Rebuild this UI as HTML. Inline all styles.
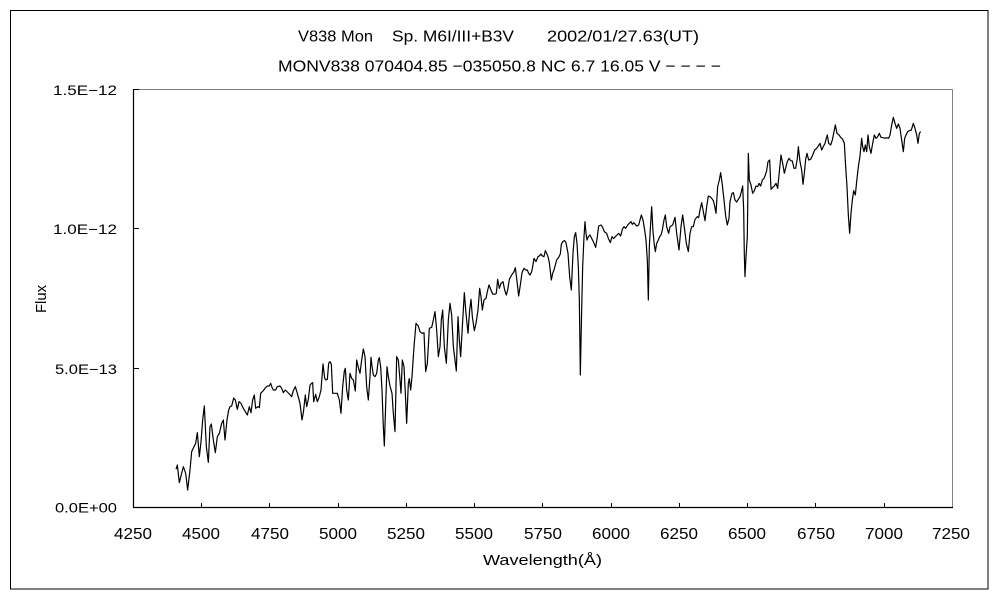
<!DOCTYPE html>
<html><head><meta charset="utf-8"><style>
html,body{margin:0;padding:0;background:#fff;}
svg{display:block;}
text{font-family:"Liberation Sans","Noto Sans CJK JP",sans-serif;fill:#000;}
</style></head><body>
<svg width="1000" height="600" viewBox="0 0 1000 600" xmlns="http://www.w3.org/2000/svg">
<rect x="0" y="0" width="1000" height="600" fill="#fff"/>
<rect x="10.5" y="10.5" width="977.5" height="578.5" fill="none" stroke="#000" stroke-width="1"/>
<!-- plot frame -->
<line x1="133" y1="89.5" x2="952.5" y2="89.5" stroke="#808080" stroke-width="1"/>
<line x1="952.5" y1="89.5" x2="952.5" y2="507.5" stroke="#808080" stroke-width="1"/>
<line x1="133.5" y1="89" x2="133.5" y2="508" stroke="#000" stroke-width="1.2"/>
<line x1="133" y1="507.5" x2="953" y2="507.5" stroke="#000" stroke-width="1.2"/>
<!-- y ticks -->
<g stroke="#000" stroke-width="1">
<line x1="133" y1="368.5" x2="139" y2="368.5"/>
<line x1="133" y1="228.5" x2="139" y2="228.5"/>
<line x1="133" y1="89.5" x2="139" y2="89.5"/>
</g>
<!-- x ticks -->
<g stroke="#000" stroke-width="1">
<line x1="201.5" y1="503" x2="201.5" y2="507"/>
<line x1="269.5" y1="503" x2="269.5" y2="507"/>
<line x1="338.5" y1="503" x2="338.5" y2="507"/>
<line x1="406.5" y1="503" x2="406.5" y2="507"/>
<line x1="474.5" y1="503" x2="474.5" y2="507"/>
<line x1="542.5" y1="503" x2="542.5" y2="507"/>
<line x1="611.5" y1="503" x2="611.5" y2="507"/>
<line x1="679.5" y1="503" x2="679.5" y2="507"/>
<line x1="747.5" y1="503" x2="747.5" y2="507"/>
<line x1="815.5" y1="503" x2="815.5" y2="507"/>
<line x1="884.5" y1="503" x2="884.5" y2="507"/>
</g>
<!-- titles -->
<text x="298" y="41.5" font-size="16" textLength="75" lengthAdjust="spacingAndGlyphs">V838 Mon</text>
<text x="392" y="41.5" font-size="16" textLength="122" lengthAdjust="spacingAndGlyphs">Sp. M6I/III+B3V</text>
<text x="547" y="41.5" font-size="16" textLength="152" lengthAdjust="spacingAndGlyphs">2002/01/27.63(UT)</text>
<text x="278" y="71.5" font-size="16" textLength="443" lengthAdjust="spacingAndGlyphs">MONV838 070404.85 −035050.8 NC 6.7 16.05 V − − − −</text>
<!-- y labels -->
<text x="117" y="95" font-size="14" text-anchor="end" textLength="64" lengthAdjust="spacingAndGlyphs">1.5E−12</text>
<text x="117" y="234" font-size="14" text-anchor="end" textLength="64" lengthAdjust="spacingAndGlyphs">1.0E−12</text>
<text x="117" y="374" font-size="14" text-anchor="end" textLength="62" lengthAdjust="spacingAndGlyphs">5.0E−13</text>
<text x="117" y="512.5" font-size="14" text-anchor="end" textLength="62" lengthAdjust="spacingAndGlyphs">0.0E+00</text>
<!-- x labels -->
<g font-size="16" text-anchor="middle">
<text x="133" y="539" textLength="38" lengthAdjust="spacingAndGlyphs">4250</text>
<text x="201" y="539" textLength="38" lengthAdjust="spacingAndGlyphs">4500</text>
<text x="270" y="539" textLength="38" lengthAdjust="spacingAndGlyphs">4750</text>
<text x="338" y="539" textLength="38" lengthAdjust="spacingAndGlyphs">5000</text>
<text x="406" y="539" textLength="38" lengthAdjust="spacingAndGlyphs">5250</text>
<text x="474" y="539" textLength="38" lengthAdjust="spacingAndGlyphs">5500</text>
<text x="543" y="539" textLength="38" lengthAdjust="spacingAndGlyphs">5750</text>
<text x="611" y="539" textLength="38" lengthAdjust="spacingAndGlyphs">6000</text>
<text x="679" y="539" textLength="38" lengthAdjust="spacingAndGlyphs">6250</text>
<text x="747" y="539" textLength="38" lengthAdjust="spacingAndGlyphs">6500</text>
<text x="816" y="539" textLength="38" lengthAdjust="spacingAndGlyphs">6750</text>
<text x="884" y="539" textLength="38" lengthAdjust="spacingAndGlyphs">7000</text>
<text x="951" y="539" textLength="38" lengthAdjust="spacingAndGlyphs">7250</text>
</g>
<text x="483" y="565" font-size="15" textLength="119" lengthAdjust="spacingAndGlyphs">Wavelength(Å)</text>
<text transform="translate(46,299) rotate(-90)" font-size="15" text-anchor="middle" textLength="28" lengthAdjust="spacingAndGlyphs">Flux</text>
<!-- data -->
<g fill="none" stroke="#000" stroke-width="1.2" stroke-linejoin="round">
<g transform="translate(130,260) scale(0.333333)">
<polyline vector-effect="non-scaling-stroke" points="138,628 142,615 148,668 160,620 167,640 173,690 180,630 185,575 192,560 197,550 202,518 208,590 213,545 218,480 223,438 229,560 235,607 240,500 244,492 250,540 256,578 262,530 268,520 275,490 280,480 285,540 291,480 296,450 300,440 305,438 311,414 316,420 322,448 327,425 333,430 340,445 346,455 352,465 358,440 363,458 368,420 373,405 377,445 383,440 388,443 392,400 399,393 405,385 412,378 418,378 422,370 426,382 430,390 437,390 442,380 450,378 455,385 460,398 466,390 472,396 478,402 485,410 490,392 496,380 502,400 510,430 516,480 520,458 526,405 530,440 535,418 540,375 545,370 548,368 551,425 557,403 562,425 568,410 573,390 579,312 584,355 588,360 592,358 596,310 600,305 604,312 608,400 615,400 622,400 628,420 633,460 638,380 643,333 646,325 650,390 655,420 660,340 665,355 670,360 676,393 680,300 685,322 690,340 695,300 700,267 705,290 710,380 715,420 720,350 723,292 726,318 730,345 735,350 740,340 745,300 748,293 752,320 756,390 760,500 763,558 768,405 771,320 775,350 780,378 786,400 790,460 795,515 800,290 805,300 810,360 813,400 817,300 822,320 826,400 830,490 835,370 838,355"/>
</g>
<g transform="translate(400,200) scale(0.333333)">
<polyline vector-effect="non-scaling-stroke" points="27.9,535 32,570 36,530 42,440 48,370 55,378 60,395 66,400 72,398 77,515 82,490 88,385 95,382 100,360 105,335 110,390 115,470 120,440 124,360 128,330 133,440 139,490 145,360 150,310 155,345 160,440 165,480 169,513 174,350 178,420 182,470 187,380 193,278 198,340 204,400 209,330 213,298 217,350 223,392 228,370 234,330 239,265 243,290 247,330 252,300 258,295 262,275 267,255 273,270 278,282 284,283 289,280 293,238 298,265 303,250 309,245 314,270 319,285 323,270 328,238 335,225 342,215 346,203 350,235 356,288 361,255 366,218 372,205 377,210 382,210 386,220 390,225 395,215 398,200 402,175 408,185 414,170 418,168 423,162 427,168 432,170 436,152 440,160 444,170 448,188 454,240 458,220 462,210 466,195 470,180 476,172 481,162 484,133 489,124 494,122 498,128 504,160 509,230 514,270 519,160 523,110 527,98 531,130 535,200 538,300 541,525 545,330 548,200 552,110 555,65 558,100 561,120 565,110 570,105 575,115 580,125 587,142 592,110 596,78 603,75 608,82 613,95 620,100 625,115 631,128 636,110 641,116 646,110 651,105 656,100 662,108 667,88 672,80 677,85 683,75 688,70 693,65 697,73 702,68 707,75 711,78 716,75 720,60 724,45 729,60 734,90 738,120 742,180 745,300 748,140 752,70 755,20 759,95 763,135 766,155 770,130 775,120 779,110 783,105 787,90 792,60 796,45 800,80 806,100 810,80"/>
</g>
<g transform="translate(670,100) scale(0.333333)">
<polyline vector-effect="non-scaling-stroke" points="0,380 8,375 15,352 20,400 27,450 33,380 38,345 44,390 49,430 55,455 60,400 65,380 70,380 75,358 82,350 86,353 90,330 95,308 100,335 105,362 110,320 115,288 120,290 125,295 130,302 134,318 138,340 143,260 148,240 152,218 157,255 162,300 167,348 172,375 177,355 180,305 186,280 190,278 195,300 200,306 205,298 210,290 214,275 218,258 221,330 223,465 225,530 228,470 232,410 235,160 238,240 243,255 248,280 253,272 258,258 263,260 267,250 272,258 277,240 282,235 286,225 290,212 294,185 299,180 303,268 308,262 313,258 318,250 323,265 328,215 333,165 338,190 343,220 348,200 352,185 357,175 362,182 367,183 372,205 377,205 382,175 385,140 390,185 395,210 399,253 403,220 407,178 411,160 416,180 422,178 428,165 434,150 440,145 445,138 450,130 455,150 460,140 465,130 469,115 472,105 476,130 482,135 487,120 492,95 496,75 501,100 507,105 512,112 518,118 523,130 527,200 531,260 535,345 539,400 543,340 547,300 551,272 556,285 560,245 565,200 570,168 575,115 578,140 582,155 586,135 590,155 594,105 598,140 603,160 608,130 613,105 618,115 623,110 628,100 633,112 640,113 645,115 650,113 656,115 660,105 665,75 670,52 675,70 680,85 685,72 690,85 695,120 700,155 704,115 708,105 713,95 718,92 724,90 730,70 735,85 740,105 744,130 748,100 752,95"/>
</g>
</g>
</svg>
</body></html>
